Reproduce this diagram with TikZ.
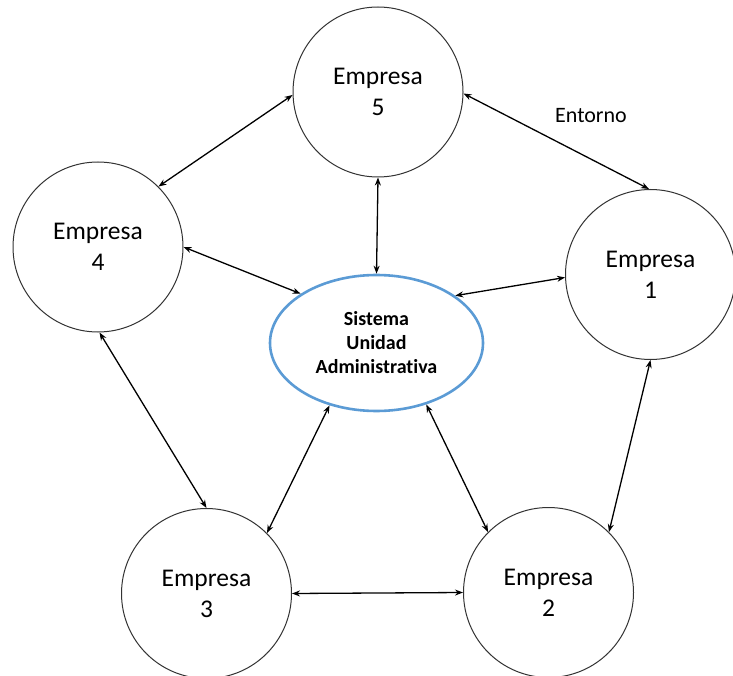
\documentclass[tikz,border=0pt]{standalone}
\usepackage{fontspec}
\setmainfont{Carlito}[Ligatures=NoCommon]
\usetikzlibrary{shapes.geometric,arrows.meta}
\definecolor{ellblue}{RGB}{91,155,213}
\tikzset{
  empresa/.style={circle,draw=black!80,line width=1pt,minimum size=170pt,inner sep=0pt,align=center,font=\fontsize{25.5}{31}\selectfont},
  sistema/.style={ellipse,draw=ellblue,line width=2.6pt,minimum width=213pt,minimum height=136pt,inner sep=0pt,align=center,font=\fontsize{20}{24}\selectfont\bfseries},
  link/.style={{Stealth[length=8pt,width=6pt]}-{Stealth[length=8pt,width=6pt]},line width=1.3pt,black}
}
\begin{document}
\begin{tikzpicture}[x=1pt,y=-1pt]
\useasboundingbox (0,0) rectangle (733,676);
\node[empresa] (e5) at (378,92) {Empresa\\5};
\node[empresa] (e4) at (98,247) {Empresa\\4};
\node[empresa] (e1) at (650.5,274.5) {Empresa\\1};
\node[empresa] (e3) at (206.5,593.5) {Empresa\\3};
\node[empresa] (e2) at (548.5,592.5) {Empresa\\2};
\node[sistema] (s) at (376.5,343) {Sistema\\Unidad\\Administrativa};
\node[anchor=base,font=\fontsize{22}{26}\selectfont] (ent) at (591,123) {Entorno};
\draw[link] (e5.182) -- (e4.45);
\draw[link] (e5.-1) -- (e1.91);
\draw[link] (e5.south) -- (s.north);
\draw[link] (e4.east) -- (s.147);
\draw[link] (e1.182) -- (s.31);
\draw[link] (e4.271) -- (e3.90);
\draw[link] (e3.45) -- (s.233);
\draw[link] (e2.135) -- (s.309.5);
\draw[link] (e1.270) -- (e2.45);
\draw[link] (e3.east) -- (e2.west);
\end{tikzpicture}
\end{document}
